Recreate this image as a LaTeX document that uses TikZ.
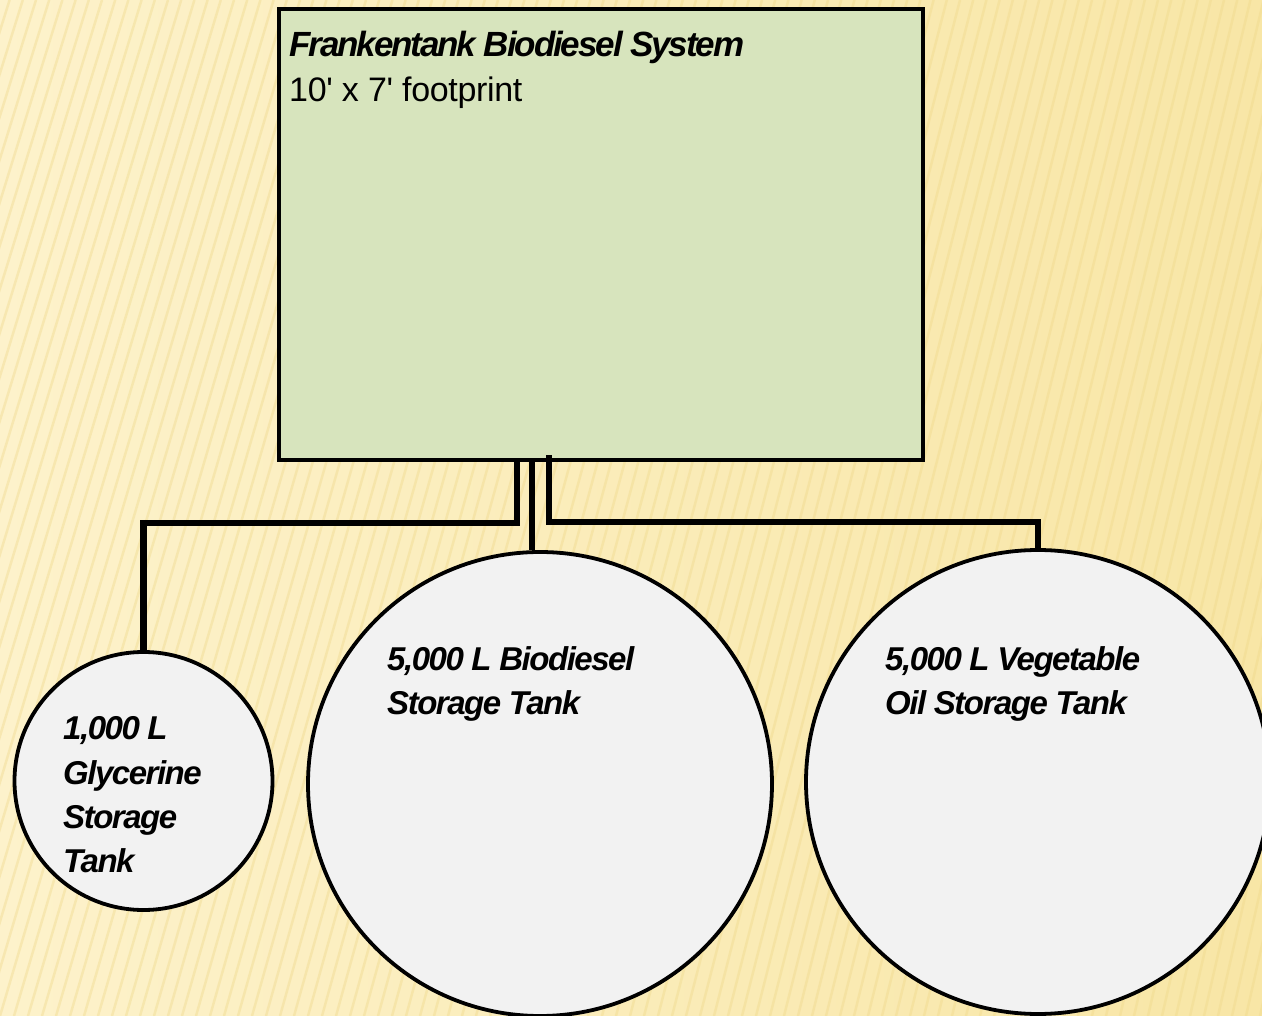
\documentclass[tikz,border=0pt]{standalone}
\usepackage{fontspec}
\setmainfont{Liberation Sans}
\newfontfamily\titlefont[LetterSpace=-6]{Liberation Sans}
\newfontfamily\subfont[LetterSpace=-1]{Liberation Sans}
\newfontfamily\tankfont[LetterSpace=-4.5]{Liberation Sans}
\definecolor{bgleft}{HTML}{FDF2CB}
\definecolor{bgright}{HTML}{F8E6A6}
\definecolor{stripe}{HTML}{EFD88A}
\definecolor{boxgreen}{HTML}{D7E4BD}
\definecolor{tankgrey}{HTML}{F2F2F2}
\tikzset{
  sysbox/.style={draw=black, line width=4pt, fill=boxgreen},
  tank/.style={circle, draw=black, line width=3.8pt, fill=tankgrey, inner sep=0pt},
  pipe/.style={draw=black, line width=6.5pt, line cap=butt, line join=miter},
  titletxt/.style={anchor=base west, inner sep=0pt, font=\titlefont\fontsize{35}{42}\selectfont\bfseries\itshape},
  subtxt/.style={anchor=base west, inner sep=0pt, font=\subfont\fontsize{34}{40}\selectfont},
  tanktxt/.style={anchor=base west, inner sep=0pt, font=\tankfont\fontsize{33}{40}\selectfont\bfseries\itshape},
}
\begin{document}
\begin{tikzpicture}[x=1pt, y=-1pt]
\useasboundingbox (0,0) rectangle (1262,1016);
\begin{scope}
\clip (0,0) rectangle (1262,1016);
\shade[left color=bgleft, right color=bgright] (0,0) rectangle (1262,1016);
\foreach \i in {-25,...,95} {
  \draw[stripe, line width=2.5pt, opacity=0.4] ({\i*14+300-\i*0.8},0) -- ({\i*14},1016);
}
\end{scope}
% main system box
\node[sysbox, minimum width=644pt, minimum height=451pt, anchor=north west, inner sep=0pt] (sys) at (277,7) {};
\node[titletxt] (title) at (289,57) {Frankentank Biodiesel System};
\node[subtxt] (sub) at (289,102) {10\symbol{39} x 7\symbol{39} footprint};
% tanks
\node[tank, minimum size=258pt] (gly) at (143.5,781) {};
\node[tank, minimum size=464pt] (bio) at (540,784) {};
\node[tank, minimum size=464pt] (veg) at (1038,782) {};
% connector points
\coordinate (pl) at (517,458);
\coordinate (pm) at (532,458);
\coordinate (pr) at (549,455);
\coordinate (el) at (517,523);
\coordinate (er) at (549,522);
\draw[pipe] (pl) -- (el) -- (el -| gly.north) -- (gly.north);
\draw[pipe] (pm) -- (pm |- bio.north);
\draw[pipe] (pr) -- (er) -- (er -| veg.north) -- (veg.north);
% tank labels
\node[tanktxt] (g1) at (63,739) {1,000 L};
\node[tanktxt] (g2) at (63,784) {Glycerine};
\node[tanktxt] (g3) at (63,828) {Storage};
\node[tanktxt] (g4) at (63,872) {Tank};
\node[tanktxt] (b1) at (387,670) {5,000 L Biodiesel};
\node[tanktxt] (b2) at (387,714) {Storage Tank};
\node[tanktxt] (v1) at (885,670) {5,000 L Vegetable};
\node[tanktxt] (v2) at (885,714) {Oil Storage Tank};
\end{tikzpicture}
\end{document}
